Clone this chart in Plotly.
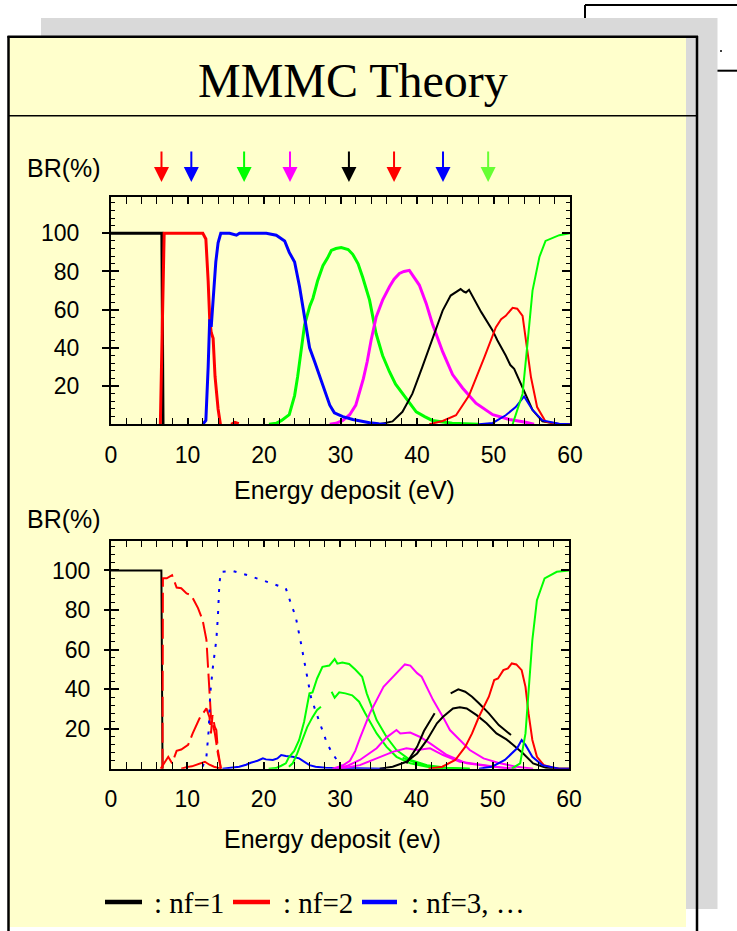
import plotly.graph_objects as go

W, H = 737, 931

# ---------------- data ----------------
x_ticks = [0, 10, 20, 30, 40, 50, 60]
y_ticks = [20, 40, 60, 80, 100]

arrow_energies = [6.6, 10.5, 17.4, 23.4, 31.1, 37.0, 43.4, 49.3]
arrow_colors = ["#FF0000", "#0000FF", "#00FF00", "#FF00FF", "#000000", "#FF0000", "#0000FF", "#66FF33"]

# upper panel
p1_black1_x = [0, 6.65, 6.8]
p1_black1_y = [100, 100, 0]
p1_red1_x = [6.45, 6.95, 12.0, 12.4, 12.7, 12.9, 13.1, 13.35, 13.6, 13.8, 14.0, 14.3, None, 15.7, 16.2, 16.7]
p1_red1_y = [0, 100, 100, 97, 75, 55, 48, 45, 25, 15, 8, 0, None, 0, 1, 0.3]
p1_blue1_x = [12.0, 12.4, 12.7, 12.9, 13.1, 13.4, 13.7, 14.0, 14.35, 15.5, 16.4, 16.8, 20.3, 21.6, 22.7, 23.3, 24.0,
              24.65, 25.3, 25.96, 26.6, 27.3, 27.9, 28.6, 29.2, 30.3, 31.6, 32.9, 33.8, 35.0, 36.0]
p1_blue1_y = [0, 2, 30, 55, 51, 70, 85, 95, 100, 100, 99, 100, 100, 99, 96, 90, 85,
              72, 55, 40, 33, 25, 17, 10, 6, 4, 2.5, 1.5, 0.8, 0.3, 0]
p1_green1_x = [20.65, 21.6, 22.3, 22.9, 23.3, 24.0, 24.4, 24.9, 25.3, 26.0, 26.4, 27.0, 27.7, 28.3, 28.8, 29.4, 30.1,
               31.0, 31.6, 32.3, 32.9, 33.8, 34.65, 35.5, 36.4, 37.2, 38.1, 39.0, 39.9, 41.0, 42.0, 44.6, 48.1]
p1_green1_y = [0, 0.5, 2, 4, 5, 15, 25, 40, 52, 62, 66, 75, 83, 87, 91, 92, 92.5,
               91.5, 89, 84, 77, 65, 47.5, 36, 27.5, 21, 16, 11, 6.5, 4, 2, 0.5, 0]
p1_mag1_x = [28.6, 29.4, 30.3, 31.2, 32.0, 32.5, 33.0, 33.5, 34.0, 34.65, 35.5, 36.4, 37.0, 37.7, 38.3, 39.0, 39.6,
             40.3, 41.2, 42.0, 43.35, 44.65, 45.95, 47.7, 49.9, 52.1, 54.2, 55.3]
p1_mag1_y = [0, 0.5, 2, 5, 10, 17, 24, 33, 44, 56, 65, 72, 76, 79, 80, 80.6, 77,
             72.9, 63.3, 52.8, 38, 26, 19, 11, 5, 2.5, 1, 0]
p1_black2_x = [35.1, 36.8, 38.1, 39.4, 40.7, 41.8, 43.35, 44.4, 45.0, 45.7, 46.1, 46.4, 46.8, 47.5, 48.4, 49.9, 50.5,
               51.6, 52.2, 52.7, 53.8, 55.1, 56.4, 58.6, 60]
p1_black2_y = [0, 1.5, 6.5, 16, 30, 42, 59.5, 67.4, 69, 70.8, 69.5, 69, 70.4, 65, 58.7, 49, 44,
               36, 31, 29, 19.5, 7.5, 1.5, 0, 0]
p1_red2_x = [41.6, 43.35, 45.1, 46.8, 48.8, 50.3, 51.0, 51.6, 52.5, 53.1, 53.8, 54.2, 54.9, 55.7, 56.8, 58.6, 60]
p1_red2_y = [0, 1.7, 4.7, 15, 35, 50.7, 55, 56.8, 61, 60.5, 56.8, 45.5, 24.6, 9, 1.4, 0, 0]
p1_blue2_x = [48.1, 49.9, 51.6, 52.9, 54.0, 55.1, 56.4, 58.6, 60]
p1_blue2_y = [0, 0.7, 4.7, 9, 14.6, 7.5, 2, 0.3, 0]
p1_green2_x = [52.5, 53.8, 54.4, 55.1, 56.0, 56.8, 58.6, 60]
p1_green2_y = [0, 16, 40.5, 70, 87.6, 96, 99, 100]

# lower panel
p2_black1_x = [0, 6.6, 6.75]
p2_black1_y = [100, 100, 0]
p2_red_top_x = [6.75, 6.8, 7.3, 8.0, 8.6, 9.2, 9.9, 10.5, 11.4, 12.0, 12.5, 12.8, 13.1, 13.6, 14.0, 14.4]
p2_red_top_y = [0, 96, 96, 97.6, 91.4, 91, 88.4, 87.6, 81, 75, 65, 48, 26, 18, 7.7, 0]
p2_red_mid_x = [6.5, 6.8, 7.5, 8.0, 8.6, 9.2, 10.1, 10.7, 11.6, 12.5, 12.9, 13.1, 13.3, 13.6, 13.8, 14.0, 14.4]
p2_red_mid_y = [0, 2, 6, 2.7, 9, 9.7, 12, 17.8, 25.4, 30.4, 26, 17.8, 27, 21, 19.5, 9.4, 0]
p2_red_low_x = [9.2, 9.9, 10.6, 11.2, 11.6, 12.0, 12.3, 12.9, 13.5, 14.4]
p2_red_low_y = [0, 0.8, 1.2, 2, 2.5, 3, 3.5, 2, 1, 0]
p2_blue_dot_x = [12.0, 12.5, 12.8, 13.0, 13.35, 13.8, 14.0, 14.2, 14.4, 16.0, 17.9, 19.9, 21.6, 22.9, 23.6, 24.2,
                 24.9, 25.5, 26.2, 26.9, 27.5, 28.3, 29.0, 29.9, 30.7]
p2_blue_dot_y = [1, 6, 19.5, 38, 51.4, 65, 76.6, 93.4, 99.3, 99.7, 97.6, 95, 92.6, 91, 83, 76.6,
                 63, 50, 36, 28, 21, 12.8, 7.7, 2.7, 0]
p2_blue_low_x = [14.6, 16.0, 16.8, 17.7, 18.3, 19.2, 19.9, 20.3, 21.2, 21.8, 22.3, 22.9, 23.8, 24.65, 25.3, 26.0,
                 26.8, 28.1, 30, 33, 36]
p2_blue_low_y = [0, 0.5, 1, 2, 3, 4, 5.2, 4.7, 4.4, 5.2, 6.9, 6.4, 6, 5.2, 3.5, 1.8,
                 1, 0.5, 0.3, 0.2, 0]
p2_green_up_x = [20.65, 21.6, 22.3, 22.9, 23.3, 24.0, 24.65, 25.3, 25.7, 26.0, 26.4, 27.0, 27.7, 28.6, 29.3, 29.65,
                 30.3, 31.2, 32.0, 32.9, 33.5, 34.8, 36.1, 37.4, 39.2, 41.4, 44.0, 47.0]
p2_green_up_y = [0, 0.3, 1.5, 2.7, 5.7, 9, 14.5, 23.7, 32, 38, 38.5, 45.5, 51.4, 52, 55.3, 53,
                 53.6, 52.8, 50, 46.4, 38, 24.5, 16, 9.4, 4.4, 1.8, 0.5, 0]
p2_green_lo_x = [23.3, 23.8, 24.4, 25.1, 25.7, 26.4, 27.0, 27.5, None, 28.9, 29.3, 29.9, 30.7, 31.6, 32.5, 33.3,
                 33.8, 34.8, 36.1, 37.4, 39.2, 41.4, 43.5]
p2_green_lo_y = [1, 2.7, 7.7, 14.5, 21, 26, 29.6, 31.3, None, 38.8, 35.8, 38.5, 38, 37, 33.8, 28,
                 24.5, 17.8, 11, 6, 2.7, 1, 0]
p2_green_small_x = [38.2, 39.2, 40.5, 41.8, 43.5, 47.0]
p2_green_small_y = [5.5, 4, 2.2, 1, 0.3, 0]
p2_mag_up_x = [29.0, 30.3, 31.3, 32.0, 32.6, 33.9, 35.7, 37.0, 38.5, 39.2, 40.1, 40.7, 41.4, 42.2, 43.5, 44.4,
               45.7, 47.0, 48.8, 51.0, 53.1, 55.3]
p2_mag_up_y = [0, 1.5, 4, 9, 15.3, 27.9, 41.3, 46.4, 52.6, 52, 48.2, 46.4, 40.5, 34.6, 26, 19.5,
               14.5, 9.4, 5.2, 2.7, 1, 0]
p2_mag_mid_x = [29.5, 31.0, 32.6, 33.9, 34.8, 36.1, 37.4, 37.9, 39.2, 40.5, 41.8, 44.0, 46.6, 50.0, 53.1]
p2_mag_mid_y = [0, 1.5, 4.4, 7.7, 10.3, 15.8, 19.5, 17.8, 18.2, 16, 12.8, 6.9, 2.7, 1, 0]
p2_mag_lo_x = [30.0, 32.6, 34.8, 37.0, 38.7, 40.1, 41.8, 43.5, 45.7, 48.8, 52.2]
p2_mag_lo_y = [0, 1.8, 5.2, 8.6, 10.3, 9.4, 10.3, 6.9, 3.5, 1.8, 0]
p2_black_lo_x = [35.2, 36.9, 38.7, 40.1, 41.4, 42.7, 43.5, 44.8, 45.7, 46.6, 47.9, 49.2, 50.5, 51.8, 52.7, 54.0,
                 55.3, 57.0, 58.7, 60]
p2_black_lo_y = [0, 1, 3.5, 7.7, 14.5, 22.9, 26.2, 30.4, 31, 30.4, 27, 22.9, 17.8, 14.8, 12, 7.7,
                 2.7, 0.5, 0, 0]
p2_black_up_x = [38.7, 40.1, 41.0, 42.4, None, 44.5, 45.5, 46.4, 47.3, 48.2, 49.5, 50.8, 51.6, 52.4]
p2_black_up_y = [2.7, 11, 19, 28, None, 38, 40, 38.8, 36.3, 33, 27.9, 22, 19.5, 17]
p2_red_r_x = [41.6, 43.4, 45.1, 46.4, 47.3, 48.2, 49.5, 50.2, 50.7, 51.4, 52.0, 52.5, 53.1, 53.8, 54.3, 54.7, 55.2,
              55.8, 56.7, 58.5, 60]
p2_red_r_y = [0, 1, 4.4, 11, 17.8, 26.2, 36.3, 44.7, 45.5, 49.7, 50.6, 53.1, 52.6, 49.7, 41.3, 27.9, 14.5,
              6, 1.8, 0, 0]
p2_blue_r_x = [48.2, 49.9, 51.6, 52.5, 53.2, 53.8, 54.3, 55.2, 56.5, 58.7, 60]
p2_blue_r_y = [0, 1, 4.4, 8, 10.3, 14.5, 12, 6, 1.8, 0, 0]
p2_green_r_x = [52.5, 53.6, 54.3, 54.7, 55.2, 55.8, 56.8, 58.4, 60]
p2_green_r_y = [0, 2.7, 17.8, 41.3, 65, 85, 96, 99.3, 100]

legend_labels = [": nf=1", ": nf=2", ": nf=3, \u2026"]
legend_colors = ["#000000", "#FF0000", "#0000FF"]

# ---------------- helpers ----------------
def px(x):
    return x / W

def py(y):
    return 1 - y / H

BLACK, RED, BLUE, GREEN, MAG = "#000000", "#FF0000", "#0000FF", "#00FF00", "#FF00FF"
SANS = "Liberation Sans, Arial, sans-serif"
SERIF = "Liberation Serif, Times New Roman, serif"

fig = go.Figure()

def add(x, y, color, width, panel, dash="solid"):
    fig.add_trace(go.Scatter(
        x=x, y=y, mode="lines", showlegend=False, hoverinfo="skip",
        line=dict(color=color, width=width, dash=dash),
        xaxis="x" if panel == 1 else "x2", yaxis="y" if panel == 1 else "y2",
        cliponaxis=True))

# upper panel traces
add(p1_black1_x, p1_black1_y, BLACK, 3, 1)
add(p1_green1_x, p1_green1_y, GREEN, 3, 1)
add(p1_mag1_x, p1_mag1_y, MAG, 3, 1)
add(p1_black2_x, p1_black2_y, BLACK, 2, 1)
add(p1_red2_x, p1_red2_y, RED, 2, 1)
add(p1_blue2_x, p1_blue2_y, BLUE, 2, 1)
add(p1_green2_x, p1_green2_y, GREEN, 2, 1)
add(p1_red1_x, p1_red1_y, RED, 3, 1)
add(p1_blue1_x, p1_blue1_y, BLUE, 3, 1)

# lower panel traces
add(p2_black1_x, p2_black1_y, BLACK, 2, 2)
add(p2_red_top_x, p2_red_top_y, RED, 2, 2, dash="20px,6px")
add(p2_red_mid_x, p2_red_mid_y, RED, 2, 2, dash="22px,6px")
add(p2_red_low_x, p2_red_low_y, RED, 2, 2)
add(p2_blue_low_x, p2_blue_low_y, BLUE, 2, 2)
add(p2_green_up_x, p2_green_up_y, GREEN, 2, 2)
add(p2_green_lo_x, p2_green_lo_y, GREEN, 2, 2)
add(p2_green_small_x, p2_green_small_y, GREEN, 2, 2)
add(p2_blue_dot_x, p2_blue_dot_y, BLUE, 2, 2, dash="3px,8px")
add(p2_mag_up_x, p2_mag_up_y, MAG, 2, 2)
add(p2_mag_mid_x, p2_mag_mid_y, MAG, 2, 2)
add(p2_mag_lo_x, p2_mag_lo_y, MAG, 2, 2)
add(p2_black_lo_x, p2_black_lo_y, BLACK, 2, 2)
add(p2_black_up_x, p2_black_up_y, BLACK, 2, 2)
add(p2_red_r_x, p2_red_r_y, RED, 2, 2)
add(p2_blue_r_x, p2_blue_r_y, BLUE, 2, 2)
add(p2_green_r_x, p2_green_r_y, GREEN, 2, 2)

# empty traces to carry the outer-tick label axes
fig.add_trace(go.Scatter(x=[None], y=[None], xaxis="x", yaxis="y3", showlegend=False, hoverinfo="skip"))
fig.add_trace(go.Scatter(x=[None], y=[None], xaxis="x2", yaxis="y4", showlegend=False, hoverinfo="skip"))

# ---------------- axes ----------------
def xax(domain, anchor, standoff):
    return dict(domain=domain, anchor=anchor, range=[0, 60], tickvals=x_ticks,
                ticks="inside", ticklen=7, tickwidth=1.5, tickcolor=BLACK,
                minor=dict(ticks="inside", ticklen=4, dtick=2, tick0=0, tickwidth=1.2, tickcolor=BLACK, showgrid=False),
                mirror="allticks", showline=True, linewidth=1.5, linecolor=BLACK,
                showgrid=False, zeroline=False, ticklabelstandoff=standoff, automargin=False,
                tickfont=dict(family=SANS, size=23, color=BLACK), fixedrange=True)

def yax_box(domain, anchor, top):
    return dict(domain=domain, anchor=anchor, range=[0, top], tickvals=y_ticks,
                ticks="inside", ticklen=8, tickwidth=1.5, tickcolor=BLACK,
                minor=dict(ticks="inside", ticklen=4, dtick=4, tick0=0, tickwidth=1.2, tickcolor=BLACK, showgrid=False),
                mirror="allticks", showline=True, linewidth=1.5, linecolor=BLACK, automargin=False,
                showticklabels=False, showgrid=False, zeroline=False, fixedrange=True)

def yax_lab(over, anchor, top, ticklen, standoff):
    return dict(overlaying=over, anchor=anchor, side="left", range=[0, top], tickvals=y_ticks,
                ticks="outside", ticklen=ticklen, tickwidth=1.5, tickcolor=BLACK, automargin=False,
                showline=False, showgrid=False, zeroline=False, ticklabelstandoff=standoff,
                tickfont=dict(family=SANS, size=23, color=BLACK), fixedrange=True)

x1_dom = [px(111), px(570)]
y1_dom = [py(424.25), py(197)]
x2_dom = [px(111), px(569)]
y2_dom = [py(768.7), py(540.7)]

# ---------------- decorations ----------------
shapes = []
def line(x0, y0, x1, y1, w, color=BLACK, layer="below"):
    shapes.append(dict(type="line", xref="paper", yref="paper", x0=px(x0), y0=py(y0), x1=px(x1), y1=py(y1),
                       line=dict(color=color, width=w), layer=layer))

def rect(x0, y0, x1, y1, fill, layer="below"):
    shapes.append(dict(type="rect", xref="paper", yref="paper", x0=px(x0), y0=py(y0), x1=px(x1), y1=py(y1),
                       fillcolor=fill, line=dict(width=0), layer=layer))

# background slide behind
line(585, 5, 737, 5, 2)
line(585, 5, 585, 30, 2)
line(717, 70.7, 737, 70.7, 2)
shapes.append(dict(type="circle", xref="paper", yref="paper", x0=px(720), y0=py(50), x1=px(722), y1=py(52),
                   fillcolor=BLACK, line=dict(width=0), layer="below"))
rect(41, 18, 717.5, 909, "#D9D9D9")
rect(9, 37, 686, 927, "#FFFFCC")
line(8.5, 36, 8.5, 931, 2.5)
line(697, 36, 697, 931, 2.5)
line(7.5, 36.7, 698, 36.7, 2.5)
line(8, 115.7, 697, 115.7, 1.5)

# legend line samples
legend_x = [(105, 142), (233, 270), (362, 397)]
for (a, b), c in zip(legend_x, legend_colors):
    line(a, 902, b, 902, 4.5, color=c, layer="above")

annotations = []
def text(t, x, y, size, family=SANS, xanchor="center"):
    annotations.append(dict(text=t, xref="paper", yref="paper", x=px(x), y=py(y), showarrow=False,
                            xanchor=xanchor, yanchor="middle", font=dict(family=family, size=size, color=BLACK)))

text("MMMC Theory", 353, 80, 48, family=SERIF)
text("BR(%)", 25, 168, 25, xanchor="left")
text("BR(%)", 25, 519, 25, xanchor="left")
text("Energy deposit (eV)", 344, 490, 25)
text("Energy deposit (ev)", 332.5, 839, 25)
legend_text_x = [152, 281, 409]
for t, x in zip(legend_labels, legend_text_x):
    text(t, x, 903, 29, family=SERIF, xanchor="left")

for e, c in zip(arrow_energies, arrow_colors):
    annotations.append(dict(text="", xref="x", yref="paper", x=e, y=py(182), ax=0, ay=-32,
                            showarrow=True, arrowhead=2, arrowsize=1.5, arrowwidth=2, arrowcolor=c, standoff=0))

fig.update_layout(
    width=W, height=H, autosize=False,
    margin=dict(l=0, r=0, t=0, b=0, pad=0, autoexpand=False),
    paper_bgcolor="white", plot_bgcolor="rgba(0,0,0,0)",
    xaxis=xax(x1_dom, "y", 9), yaxis=yax_box(y1_dom, "x", 119),
    xaxis2=xax(x2_dom, "y2", 9), yaxis2=yax_box(y2_dom, "x2", 115),
    yaxis3=yax_lab("y", "x", 119, 8, 18), yaxis4=yax_lab("y2", "x2", 115, 6, 9),
    shapes=shapes, annotations=annotations, showlegend=False,
)

fig.write_html("out.html", config={"displayModeBar": False, "responsive": False},
               post_script="document.documentElement.style.overflow='hidden';document.body.style.margin='0';document.body.style.overflow='hidden';")
